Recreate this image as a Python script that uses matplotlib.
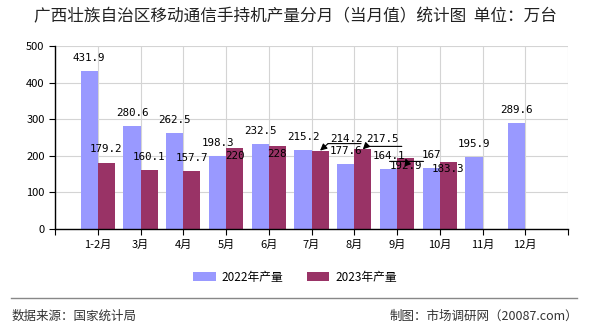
import matplotlib
matplotlib.use("Agg")
import matplotlib.pyplot as plt
from matplotlib.lines import Line2D
from matplotlib.transforms import offset_copy

#--- データ ---#
months = ["1-2月", "3月", "4月", "5月", "6月", "7月", "8月", "9月", "10月", "11月", "12月"]
prod2022 = [431.9, 280.6, 262.5, 198.3, 232.5, 215.2, 177.6, 164.1, 167, 195.9, 289.6]
prod2023 = [179.2, 160.1, 157.7, 220, 228, 214.2, 217.5, 192.9, 183.3]
labels2022 = ["431.9", "280.6", "262.5", "198.3", "232.5", "215.2", "177.6", "164.1", "167", "195.9", "289.6"]
labels2023 = ["179.2", "160.1", "157.7", "220", "228", "214.2", "217.5", "192.9", "183.3"]

#--- 表示位置（ピクセル単位のオフセット） ---#
off2022 = [(0, -13)] * len(prod2022)
off2023 = [(0, -14), (0, -13), (0, -13), (0, 8), (0, 8), (26, -12), (20, -10), (0, 8), (0, 7)]
# 引出線: (下線の左端dx, 右端dx, 下線dy, 矢印の起点dx)
leaders = {5: (-18, 15, 5, -18), 6: (-17, 19, 7, -17), 7: (-16, 18, -5, 1)}

plt.rcParams['font.family'] = ['Noto Sans CJK SC', 'DejaVu Sans']
PX = 0.72  # 1px -> pt (dpi=100)

fig = plt.figure(figsize=(5.9, 3.3), dpi=100)
ax = fig.add_axes([55 / 590, 1 - 229 / 330, 513 / 590, 183 / 330])

c22 = '#9999FF'
c23 = '#993366'
w = 0.4
x22 = [i - w / 2 for i in range(len(prod2022))]
x23 = [i + w / 2 for i in range(len(prod2023))]
ax.bar(x22, prod2022, width=w, color=c22, label='2022年产量', zorder=2)
ax.bar(x23, prod2023, width=w, color=c23, label='2023年产量', zorder=2)

lblfont = dict(family='DejaVu Sans Mono', size=7.8, color='black')
for x, y, t, (dx, dy) in zip(x22, prod2022, labels2022, off2022):
    ax.annotate(t, (x, y), xytext=(dx * PX, -dy * PX), textcoords='offset points',
                ha='center', va='center', zorder=4, **lblfont)
for i, (x, y, t, (dx, dy)) in enumerate(zip(x23, prod2023, labels2023, off2023)):
    ax.annotate(t, (x, y), xytext=(dx * PX, -dy * PX), textcoords='offset points',
                ha='center', va='center', zorder=4, **lblfont)
    if i in leaders:
        l0, l1, ly, ax0 = leaders[i]
        ty = dy + ly
        ax.annotate('', xy=(x, y), xycoords=offset_copy(ax.transData, fig=fig, x=(dx + l0) * PX, y=-ty * PX, units='points'),
                    xytext=(x, y), textcoords=offset_copy(ax.transData, fig=fig, x=(dx + l1) * PX, y=-ty * PX, units='points'),
                    arrowprops=dict(arrowstyle='-', color='black', lw=0.8, shrinkA=0, shrinkB=0), zorder=4)
        ax.annotate('', xy=(x, y),
                    xytext=(x, y), textcoords=offset_copy(ax.transData, fig=fig, x=(dx + ax0) * PX, y=-ty * PX, units='points'),
                    arrowprops=dict(arrowstyle='-|>,head_length=0.4,head_width=0.2', color='black', lw=0.8,
                                    shrinkA=0, shrinkB=0), zorder=4)

#--- 軸設定 ---#
ax.set_xlim(-1, 11)
ax.set_ylim(0, 500)
ax.set_yticks(range(0, 501, 100))
ax.set_xticks(range(-1, 12))
ax.set_xticklabels([''] + months + [''])
ax.tick_params(axis='both', direction='out', length=4, width=0.8, labelsize=8, colors='black')
ax.grid(True, color='#d4d4d4', lw=0.8, zorder=0)
ax.set_axisbelow(True)
for s in ['top', 'right']:
    ax.spines[s].set_visible(False)
for s in ['left', 'bottom']:
    ax.spines[s].set_linewidth(1)
    ax.spines[s].set_color('black')

#--- タイトル・凡例・注記 ---#
fig.text(0.5, 1 - 17 / 330, '广西壮族自治区移动通信手持机产量分月（当月值）统计图  单位：万台',
         ha='center', va='center', fontsize=12, color='#222222')
fig.legend(loc='center', bbox_to_anchor=(0.5, 1 - 277 / 330), ncol=2, frameon=False,
           fontsize=8.5, handlelength=1.9, handleheight=0.7, columnspacing=2.0, handletextpad=0.5)
fig.add_artist(Line2D([11 / 590, 577 / 590], [1 - 298 / 330] * 2, color='#888888', lw=1))
fig.text(12 / 590, 1 - 316 / 330, '数据来源：国家统计局', ha='left', va='center', fontsize=9, color='#333333')
fig.text(578 / 590, 1 - 316 / 330, '制图：市场调研网（20087.com）', ha='right', va='center', fontsize=9, color='#333333')

fig.savefig('out.png', dpi=100)
